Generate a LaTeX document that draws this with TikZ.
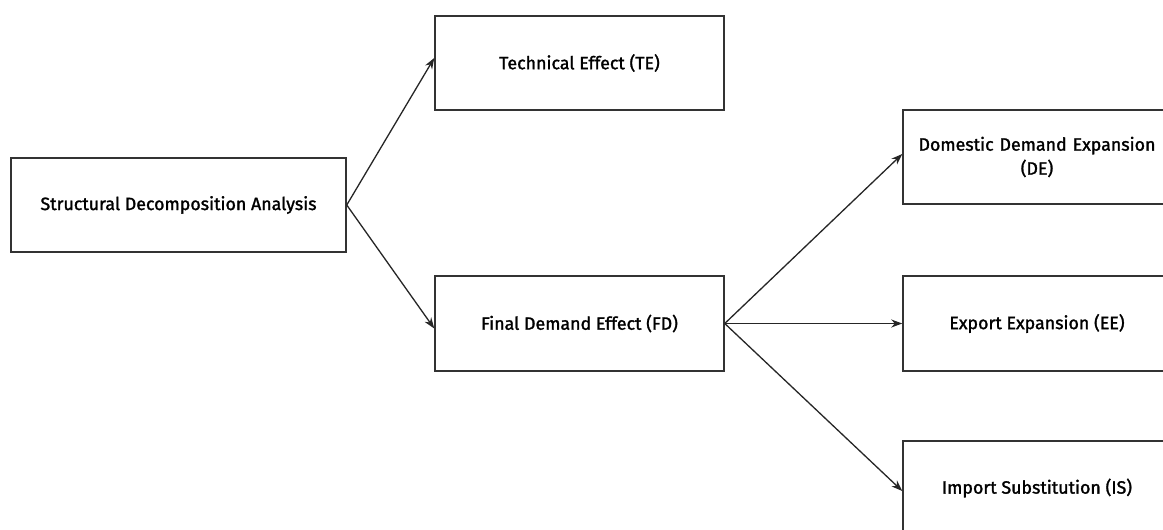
\documentclass[tikz,border=0pt]{standalone}
\usepackage{fontspec}
\setmainfont{Fira Sans}
\newfontfamily\boxfont{Fira Sans}[FakeBold=1.5]
\usetikzlibrary{arrows.meta}
\begin{document}
\begin{tikzpicture}[x=1pt,y=-1pt,
  box/.style={draw=black!80,line width=1.5pt,minimum height=94pt,align=center,font=\boxfont\fontsize{17.8}{24}\selectfont,inner sep=2pt},
  conn/.style={draw=black!85,line width=1.3pt,-{Stealth[length=11pt,width=8pt]}}]
\useasboundingbox (0,0) rectangle (1163,530);
\clip (0,0) rectangle (1163,530);
\fill[white] (0,0) rectangle (1163,530);
\node[box,minimum width=335pt] (sda) at (178.5,205) {Structural Decomposition Analysis};
\node[box,minimum width=289pt] (te) at (579.5,63) {Technical Effect (TE)};
\node[box,minimum width=289pt,minimum height=95pt] (fd) at (579.5,323.5) {Final Demand Effect (FD)};
\node[box,minimum width=268pt,text width=262pt] (de) at (1037,157) {Domestic Demand Expansion\\(DE)};
\node[box,minimum width=268pt,minimum height=95pt] (ee) at (1037,323.5) {Export Expansion (EE)};
\node[box,minimum width=268pt] (is) at (1037,488) {Import Substitution (IS)};
\draw[conn] (sda.east) -- ([yshift=5pt]te.west);
\draw[conn] (sda.east) -- ([yshift=-5pt]fd.west);
\draw[conn] (fd.east) -- ([yshift=3pt]de.west);
\draw[conn] (fd.east) -- (ee.west);
\draw[conn] (fd.east) -- ([yshift=-3pt]is.west);
\end{tikzpicture}
\end{document}
